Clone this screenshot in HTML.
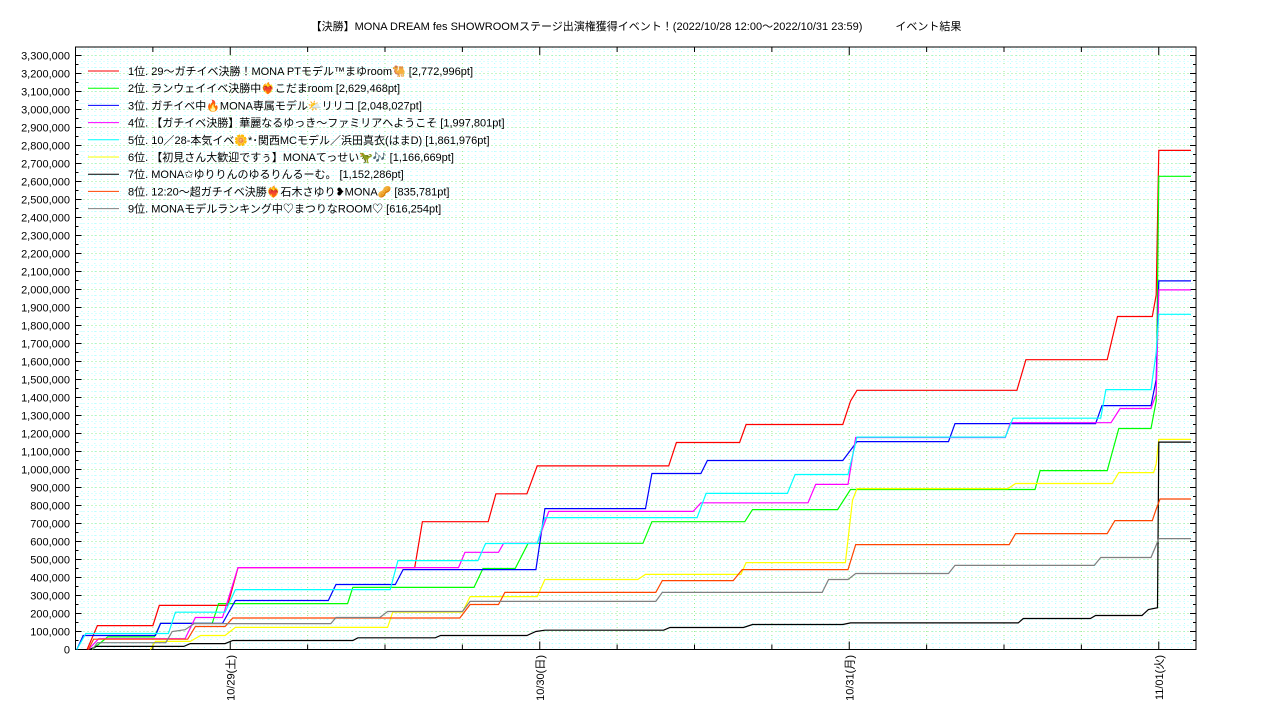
<!DOCTYPE html>
<html><head><meta charset="utf-8"><style>
html,body{margin:0;padding:0;background:#fff;}
svg text{font-family:"Liberation Sans","Noto Sans CJK JP",sans-serif;font-size:11px;fill:#000;}
</style></head><body>
<svg id="chart" width="1280" height="720" xmlns="http://www.w3.org/2000/svg">
<text x="636" y="30" text-anchor="middle">【決勝】MONA DREAM fes SHOWROOMステージ出演権獲得イベント！(2022/10/28 12:00〜2022/10/31 23:59)　　　イベント結果</text>
<g id="grid"></g>
<g id="axes"></g>
<g id="series"></g>
<g id="legend"></g>
</svg>
<script>
// hours since 10/28 12:00, values in thousands of pt
const dayLabels = ["10/29(土)","10/30(日)","10/31(月)","11/01(火)"];
const dayHours = [12,36,60,84];
const names = [
"1位. 29〜ガチイベ決勝！MONA PTモデル™まゆroom🐫 [2,772,996pt]",
"2位. ランウェイイベ決勝中❤️‍🔥こだまroom [2,629,468pt]",
"3位. ガチイベ中🔥MONA専属モデル🌤️リリコ [2,048,027pt]",
"4位. 【ガチイベ決勝】華麗なるゆっき〜ファミリアへようこそ [1,997,801pt]",
"5位. 10／28-本気イベ🌼*･関西MCモデル／浜田真衣(はまD) [1,861,976pt]",
"6位. 【初見さん大歓迎ですぅ】MONAてっせい🦖🎶 [1,166,669pt]",
"7位. MONA✩ゆりりんのゆるりんるーむ。 [1,152,286pt]",
"8位. 12:20〜超ガチイベ決勝❤️‍🔥石木さゆり❥MONA🥜 [835,781pt]",
"9位. MONAモデルランキング中♡まつりなROOM♡ [616,254pt]"];
const colors = ["#ff0000","#00ff00","#0000ff","#ff00ff","#00ffff","#ffff00","#000000","#ff4500","#808080"];
const s1 = [[0.9,0],[1.7,133],[6.0,133],[6.5,245],[11.8,245],[12.6,455],[26.3,455],[26.9,710],[32.0,710],[32.6,865],[35.0,865],[35.8,1020],[46.0,1020],[46.6,1150],[51.5,1150],[52.0,1250],[59.5,1250],[60.1,1380],[60.6,1440],[73.0,1440],[73.7,1610],[80.0,1610],[80.8,1850],[83.5,1850],[83.8,1970],[84.0,2773],[86.5,2773]];
const s2 = [[1.3,0],[2.5,70],[6.1,70],[6.6,145],[10.6,145],[11.1,255],[21.1,255],[21.5,345],[30.9,345],[31.6,450],[34.1,450],[35.1,590],[44.0,590],[44.7,710],[51.9,710],[52.5,777],[59.1,777],[60.1,889],[74.4,889],[74.8,994],[80.0,994],[80.9,1228],[83.4,1228],[83.8,1380],[84.0,2629],[86.5,2629]];
const s3 = [[0.1,0],[0.6,78],[6.2,78],[6.6,145],[11.4,145],[12.4,272],[19.6,272],[20.2,361],[24.8,361],[25.4,444],[35.7,444],[36.4,783],[44.2,783],[44.7,978],[48.5,978],[49.0,1050],[59.5,1050],[60.6,1155],[67.7,1155],[68.2,1255],[79.1,1255],[79.6,1355],[83.4,1355],[83.8,1500],[84.0,2048],[86.5,2048]];
const s4 = [[1.0,0],[1.8,60],[8.5,60],[9.3,178],[11.4,178],[12.6,455],[29.7,455],[30.2,540],[32.8,540],[33.2,590],[35.8,590],[36.7,767],[47.9,767],[48.5,815],[56.8,815],[57.4,917],[59.9,917],[60.5,1178],[72.1,1178],[72.5,1260],[80.3,1260],[81.0,1339],[83.4,1339],[83.8,1420],[84.0,1998],[86.5,1998]];
const s5 = [[0.1,0],[0.8,89],[7.2,89],[7.75,207],[11.6,207],[12.4,333],[24.4,333],[25.0,494],[31.2,494],[31.8,589],[35.8,589],[36.4,733],[48.2,733],[48.9,867],[55.2,867],[55.8,972],[59.9,972],[60.6,1180],[72.1,1180],[72.7,1285],[79.5,1285],[79.9,1444],[83.4,1444],[83.8,1650],[84.0,1862],[86.5,1862]];
const s6 = [[5.8,0],[6.2,45],[8.9,45],[9.7,78],[11.6,78],[12.4,123],[24.2,123],[24.6,207],[30.0,207],[30.6,294],[35.8,294],[36.4,389],[43.6,389],[44.2,417],[51.6,417],[52.0,483],[59.7,483],[60.25,830],[60.6,894],[72.3,894],[72.9,922],[80.4,922],[80.9,983],[83.6,983],[83.8,1030],[84.0,1167],[86.5,1167]];
const s7 = [[1.1,0],[1.6,17],[8.4,17],[8.9,33],[11.6,33],[12.2,50],[21.5,50],[21.9,65],[27.9,65],[28.3,78],[35.0,78],[35.7,100],[36.4,107],[45.6,107],[46.1,122],[51.8,122],[52.5,139],[59.5,139],[60.1,148],[73.1,148],[73.5,172],[78.7,172],[79.1,189],[82.7,189],[83.2,222],[83.9,232],[84.0,1152],[86.5,1152]];
const s8 = [[1.0,0],[1.4,57],[8.7,57],[9.3,128],[11.6,128],[12.2,175],[29.8,175],[30.6,250],[32.8,250],[33.3,317],[45.0,317],[45.5,383],[51.0,383],[51.7,444],[59.9,444],[60.5,583],[72.4,583],[72.9,644],[80.0,644],[80.6,716],[83.5,716],[83.8,780],[84.1,836],[86.5,836]];
const s9 = [[1.3,0],[1.7,38],[7.0,38],[7.5,100],[8.5,110],[9.2,144],[19.8,144],[20.2,178],[23.6,178],[24.2,211],[30.0,211],[30.6,267],[45.0,267],[45.5,317],[57.9,317],[58.4,389],[59.9,389],[60.5,422],[67.7,422],[68.2,467],[79.0,467],[79.5,511],[83.4,511],[83.8,580],[84.0,616],[86.5,616]];
const allSeries = [s1,s2,s3,s4,s5,s6,s7,s8,s9];

const L=75.5,R=1196,T=47,B=649.5;
const hourPx=309.5/24;
const X=h=>L+h*hourPx;
const Y=v=>B-v/100*18;
const NS="http://www.w3.org/2000/svg";
function mk(tag,parent,attrs){const e=document.createElementNS(NS,tag);for(const k in attrs)e.setAttribute(k,attrs[k]);parent.appendChild(e);return e;}
const grid=document.getElementById('grid'),axes=document.getElementById('axes'),ser=document.getElementById('series'),leg=document.getElementById('legend');
const hmax=(R-L)/hourPx;
// minor grid
for(let h=0.5;h<hmax;h+=0.5){const major=(h%6===0);
 const l=mk('line',grid,{x1:X(h),x2:X(h),y1:T,y2:B,stroke:major?'#90ee90':'#b0ffff','stroke-width':1,'stroke-dasharray':'1,3'});
 }
for(let i=1;i<=100;i++){const v=i*100/3;const y=Y(v);if(y<T)break;const major=(i%3===0);
 const l=mk('line',grid,{x1:L,x2:R,y1:y,y2:y,stroke:major?'#90ee90':'#b0ffff','stroke-width':1,'stroke-dasharray':'1,3'});
 }
// frame
const fr=mk('rect',axes,{x:L,y:T,width:R-L,height:B-T,fill:'none',stroke:'#000','stroke-width':1});

// y ticks & labels
for(let i=0;i<=66;i++){const v=i*50;const y=Y(v);const maj=i%2===0;const len=maj?6:3;
 mk('line',axes,{x1:L,x2:L+len,y1:y,y2:y,stroke:'#000'});mk('line',axes,{x1:R,x2:R-len,y1:y,y2:y,stroke:'#000'});
 if(maj){const t=mk('text',axes,{x:70,y:y+4,'text-anchor':'end'});t.textContent=(v*1000).toLocaleString('en-US');
  }}
// x ticks
for(let h=6;h<hmax;h+=6){const x=X(h);const len=(h%24===12)?8:5;
 mk('line',axes,{x1:x,x2:x,y1:B,y2:B-len,stroke:'#000'});mk('line',axes,{x1:x,x2:x,y1:T,y2:T+len,stroke:'#000'});}
dayHours.forEach((h,i)=>{const x=X(h);const t=mk('text',axes,{transform:`translate(${x+4},655) rotate(-90)`,'text-anchor':'end'});t.textContent=dayLabels[i];
 });
// series
allSeries.forEach((s,i)=>{const p=mk('polyline',ser,{points:s.map(d=>X(d[0]).toFixed(1)+','+Y(d[1]).toFixed(1)).join(' '),fill:'none',stroke:colors[i],'stroke-width':1.2});
 });
// legend
names.forEach((n,i)=>{const y=71+i*17.2;
 const g=mk('g',leg,{});
 mk('line',g,{x1:88,x2:119,y1:y,y2:y,stroke:colors[i],'stroke-width':1});
 const t=mk('text',g,{x:128,y:y+4});t.textContent=n;});
</script>
</body></html>
